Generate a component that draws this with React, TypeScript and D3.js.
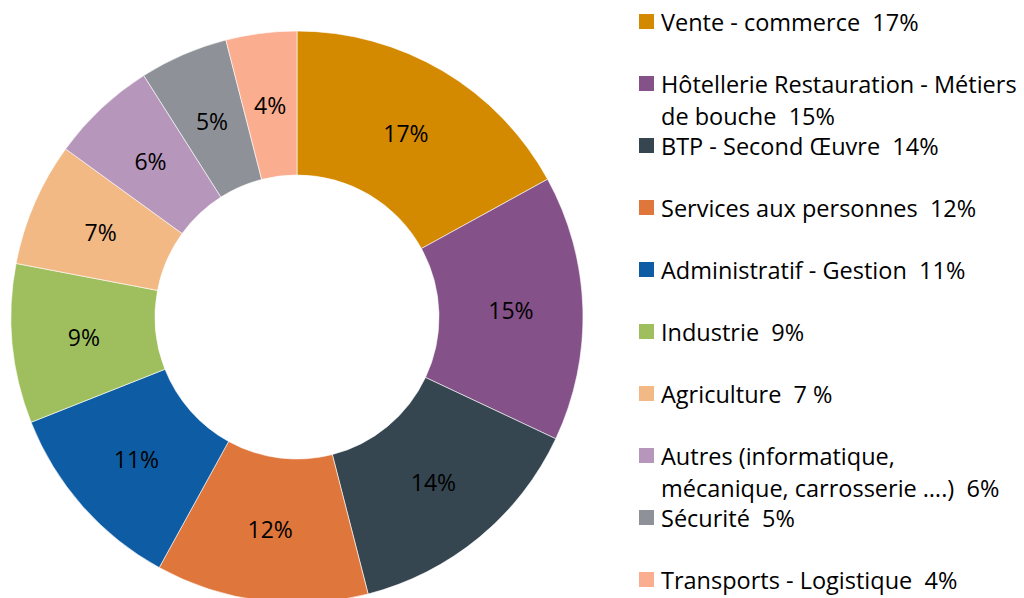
import { useEffect, useRef } from 'react';
import * as d3 from 'd3';

const categories = [
  'Vente - commerce',
  'Hôtellerie Restauration - Métiers de bouche',
  'BTP - Second Œuvre',
  'Services aux personnes',
  'Administratif - Gestion',
  'Industrie',
  'Agriculture',
  'Autres (informatique, mécanique, carrosserie ….)',
  'Sécurité',
  'Transports - Logistique',
];
const values = [17, 15, 14, 12, 11, 9, 7, 6, 5, 4];
const colors = [
  '#d48a00', '#845189', '#354651', '#df763c', '#0e5da4',
  '#9fbf5e', '#f3b985', '#b696ba', '#8e9298', '#fbad8f',
];
const legendLines = [
  ['Vente - commerce  17%'],
  ['Hôtellerie Restauration - Métiers', 'de bouche  15%'],
  ['BTP - Second Œuvre  14%'],
  ['Services aux personnes  12%'],
  ['Administratif - Gestion  11%'],
  ['Industrie  9%'],
  ['Agriculture  7 %'],
  ['Autres (informatique,', 'mécanique, carrosserie ….)  6%'],
  ['Sécurité  5%'],
  ['Transports - Logistique  4%'],
];

const font = '"Open Sans", Lato, sans-serif';

function App() {
  const ref = useRef<SVGSVGElement>(null);

  useEffect(() => {
    document.body.style.margin = '0';
    const svg = d3.select(ref.current);
    svg.selectAll('*').remove();

    const cx = 297, cy = 317, outer = 286, inner = 142;

    const pie = d3.pie<number>().sort(null).value(d => d);
    const arcs = pie(values);
    const arc = d3.arc<d3.PieArcDatum<number>>().innerRadius(inner).outerRadius(outer);

    const g = svg.append('g').attr('transform', `translate(${cx},${cy})`);
    g.selectAll('path')
      .data(arcs)
      .enter()
      .append('path')
      .attr('d', arc)
      .attr('fill', (d, i) => colors[i])
      .attr('stroke', '#fff')
      .attr('stroke-width', 0.6);

    g.selectAll('text')
      .data(arcs)
      .enter()
      .append('text')
      .attr('transform', d => `translate(${arc.centroid(d)})`)
      .attr('text-anchor', 'middle')
      .attr('dominant-baseline', 'central')
      .style('font-family', font)
      .style('font-size', '23px')
      .attr('fill', '#000')
      .text(d => `${d.data}%`);

    const legendY = d3.scaleLinear().domain([0, categories.length - 1]).range([21.5, 579.5]);
    const lg = svg.append('g');
    legendLines.forEach((lines, i) => {
      const y = legendY(i);
      lg.append('rect')
        .attr('x', 639).attr('y', y - 7.5)
        .attr('width', 15).attr('height', 15)
        .attr('fill', colors[i]);
      lines.forEach((line, j) => {
        lg.append('text')
          .attr('x', 661)
          .attr('y', y + j * 32)
          .attr('dominant-baseline', 'central')
          .style('font-family', font)
          .style('font-size', '23.5px')
          .style('white-space', 'pre')
          .attr('fill', '#000')
          .text(line);
      });
    });
  }, []);

  return <svg ref={ref} width={1024} height={598} style={{ display: 'block' }} />;
}

export default App;
